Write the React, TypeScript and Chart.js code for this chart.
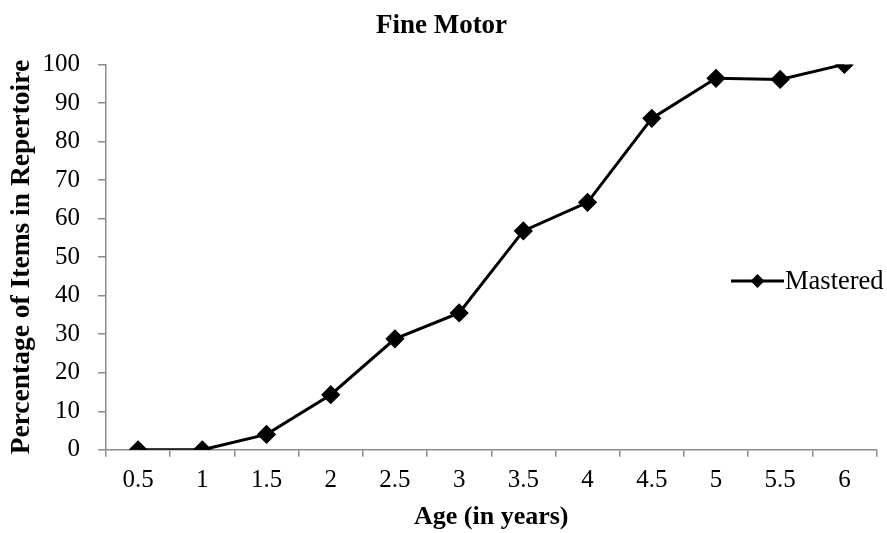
import React, { useEffect, useRef } from "react";
import { Chart, registerables } from "chart.js";

Chart.register(...registerables);

const ages: string[] = ["0.5", "1", "1.5", "2", "2.5", "3", "3.5", "4", "4.5", "5", "5.5", "6"];
const mastered: number[] = [0, 0, 4, 14.3, 28.8, 35.5, 56.8, 64.2, 86, 96.4, 96.1, 100];
const seriesName = "Mastered";
const chartTitle = "Fine Motor";
const xTitle = "Age (in years)";
const yTitle = "Percentage of Items in Repertoire";

const SERIF = "'Liberation Serif', 'Times New Roman', serif";
const AXIS = "#8c8c8c";

const legendPlugin = {
  id: "customLegend",
  afterDraw(chart: any) {
    const ctx = chart.ctx;
    const y = 281;
    const x0 = 731;
    const x1 = 784;
    ctx.save();
    ctx.strokeStyle = "#000";
    ctx.lineWidth = 3;
    ctx.beginPath();
    ctx.moveTo(x0, y);
    ctx.lineTo(x1, y);
    ctx.stroke();
    const cx = (x0 + x1) / 2;
    const r = 7;
    ctx.fillStyle = "#000";
    ctx.beginPath();
    ctx.moveTo(cx, y - r);
    ctx.lineTo(cx + r, y);
    ctx.lineTo(cx, y + r);
    ctx.lineTo(cx - r, y);
    ctx.closePath();
    ctx.fill();
    ctx.font = `26.5px ${SERIF}`;
    ctx.textBaseline = "middle";
    ctx.textAlign = "left";
    ctx.fillText(chart.data.datasets[0].label, x1 + 1, y + 1);
    ctx.restore();
  },
};

export default function App() {
  const ref = useRef<HTMLCanvasElement | null>(null);
  useEffect(() => {
    if (!ref.current) return;
    const chart = new Chart(ref.current, {
      type: "line",
      data: {
        labels: ages,
        datasets: [
          {
            label: seriesName,
            data: mastered,
            borderColor: "#000",
            backgroundColor: "#000",
            borderWidth: 3,
            pointStyle: "rectRot",
            pointRadius: 7.5,
            pointHoverRadius: 7.5,
            tension: 0,
          },
        ],
      },
      options: {
        animation: false,
        responsive: false,
        maintainAspectRatio: false,
        layout: { padding: { left: 5, right: 9, top: 6, bottom: 0 } },
        plugins: {
          legend: { display: false },
          tooltip: { enabled: false },
          title: {
            display: true,
            text: chartTitle,
            color: "#000",
            font: { family: SERIF, size: 27, weight: "bold" },
            padding: { top: 4, bottom: 22 },
          },
        },
        scales: {
          x: {
            type: "category",
            offset: true,
            grid: {
              display: true,
              offset: true,
              drawOnChartArea: false,
              drawTicks: true,
              tickLength: 7,
              color: AXIS,
              lineWidth: 1.5,
            },
            border: { display: true, color: AXIS, width: 1.5 },
            ticks: {
              color: "#000",
              font: { family: SERIF, size: 25 },
              padding: 9,
              maxRotation: 0,
            },
            title: {
              display: true,
              text: xTitle,
              color: "#000",
              font: { family: SERIF, size: 26, weight: "bold" },
              padding: { top: -3, bottom: 0 },
            },
          },
          y: {
            min: 0,
            max: 100,
            ticks: {
              stepSize: 10,
              color: "#000",
              font: { family: SERIF, size: 25 },
              padding: 18,
            },
            grid: {
              display: true,
              drawOnChartArea: false,
              drawTicks: true,
              tickLength: 8,
              color: AXIS,
              lineWidth: 1.5,
            },
            border: { display: true, color: AXIS, width: 1.5 },
            title: {
              display: true,
              text: yTitle,
              color: "#000",
              font: { family: SERIF, size: 27.5, weight: "bold" },
              padding: { top: 0, bottom: -13.5 },
            },
          },
        },
      },
      plugins: [legendPlugin],
    });
    return () => chart.destroy();
  }, []);
  return (
    <div style={{ position: "fixed", left: 0, top: 0, width: 887, height: 533, background: "#fff" }}>
      <canvas ref={ref} width={887} height={533} style={{ width: 887, height: 533 }} />
    </div>
  );
}
